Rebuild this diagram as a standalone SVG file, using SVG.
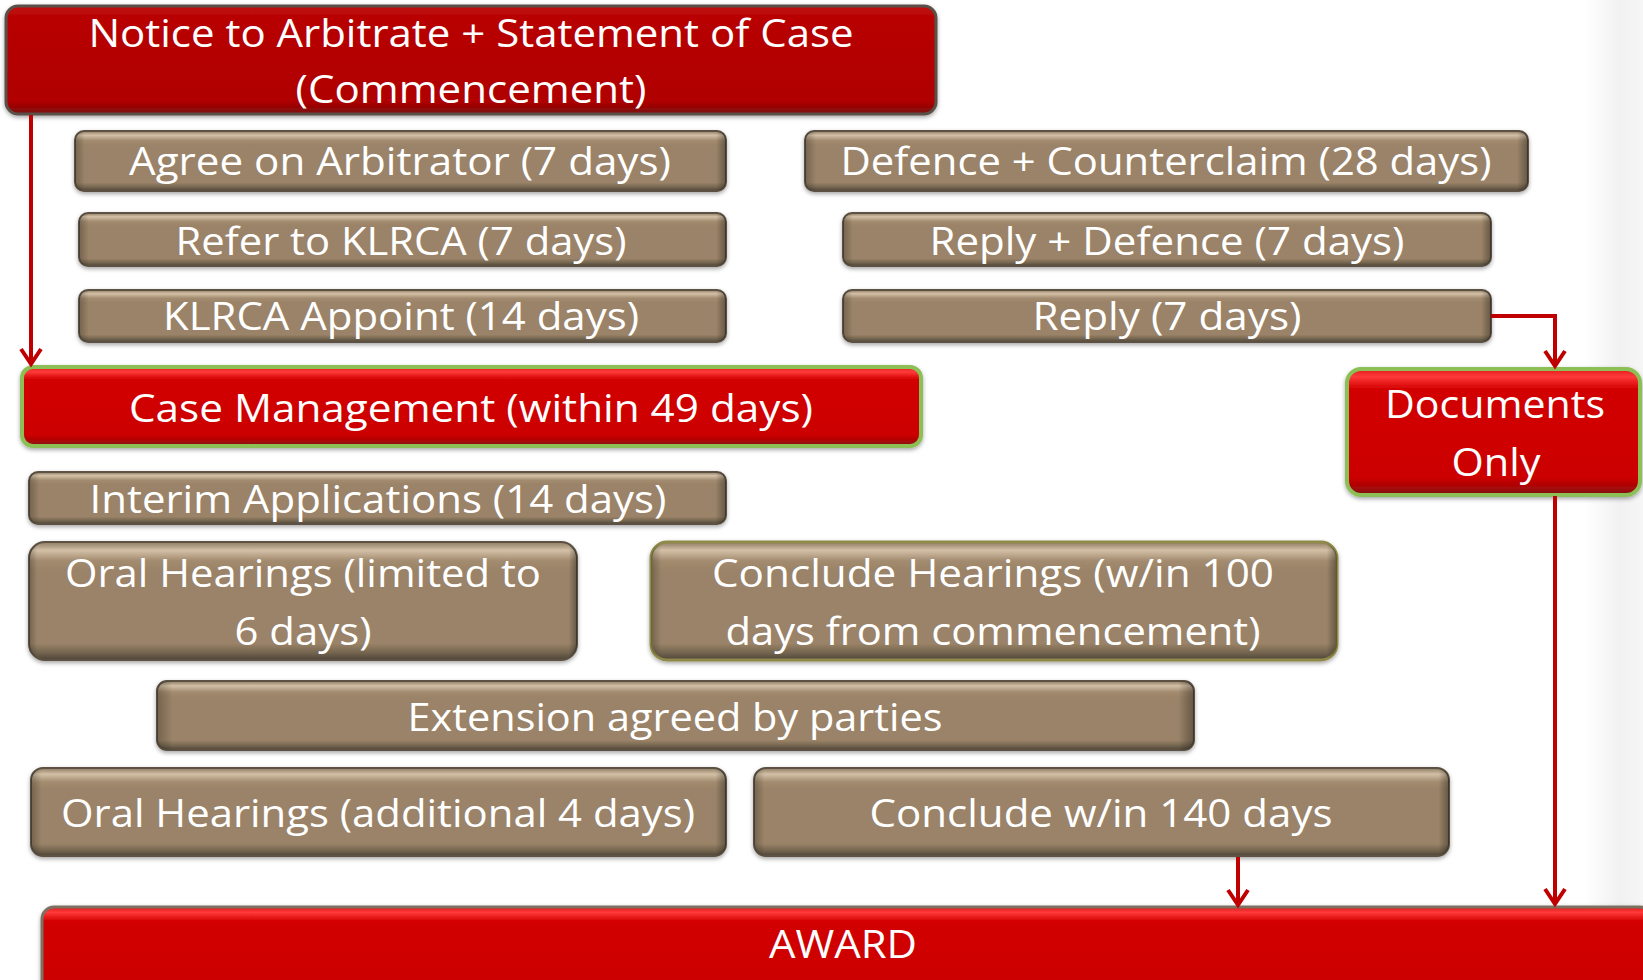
<svg xmlns="http://www.w3.org/2000/svg" width="1643" height="980" viewBox="0 0 1643 980">
<defs>
<linearGradient id="bg" x1="0" y1="0" x2="1" y2="0">
<stop offset="0" stop-color="#ffffff"/><stop offset="0.6" stop-color="#f1f1f1"/><stop offset="1" stop-color="#f6f6f6"/>
</linearGradient>
<linearGradient id="gBrown" x1="0" y1="0" x2="0" y2="1">
<stop offset="0" stop-color="#8c7a62"/><stop offset="0.07" stop-color="#d3c0a6"/><stop offset="0.16" stop-color="#a28b6f"/><stop offset="0.24" stop-color="#9a8367"/><stop offset="0.86" stop-color="#9a8367"/><stop offset="0.94" stop-color="#73644f"/><stop offset="1" stop-color="#4c4437"/>
</linearGradient>
<linearGradient id="gSide" x1="0" y1="0" x2="1" y2="0">
<stop offset="0" stop-color="#000" stop-opacity="0.25"/><stop offset="0.015" stop-color="#000" stop-opacity="0"/><stop offset="0.985" stop-color="#000" stop-opacity="0"/><stop offset="1" stop-color="#000" stop-opacity="0.35"/>
</linearGradient>
<linearGradient id="gRed" x1="0" y1="0" x2="0" y2="1">
<stop offset="0" stop-color="#e01a1a"/><stop offset="0.06" stop-color="#ff3a3a"/><stop offset="0.16" stop-color="#d20000"/><stop offset="0.86" stop-color="#cc0000"/><stop offset="0.95" stop-color="#a30808"/><stop offset="1" stop-color="#7a1010"/>
</linearGradient>
<linearGradient id="gDark" x1="0" y1="0" x2="0" y2="1">
<stop offset="0" stop-color="#c21010"/><stop offset="0.1" stop-color="#b80404"/><stop offset="0.88" stop-color="#b00000"/><stop offset="1" stop-color="#7a0c0c"/>
</linearGradient>
<filter id="sh" x="-5%" y="-10%" width="110%" height="130%">
<feDropShadow dx="0" dy="2" stdDeviation="2" flood-color="#000" flood-opacity="0.35"/>
</filter>
<marker id="arr" markerUnits="userSpaceOnUse" markerWidth="30" markerHeight="30" refX="0" refY="0" orient="auto" overflow="visible">
<path d="M-15,-10 L0,0 L-15,10" fill="none" stroke="#c00000" stroke-width="4" stroke-linejoin="miter"/>
</marker>
</defs>
<style>
.brown{fill:url(#gBrown);stroke:#5b5143;stroke-width:2;filter:url(#sh)}
.side{fill:url(#gSide);stroke:none}
.red{fill:url(#gRed);stroke:#8cbf55;stroke-width:4;filter:url(#sh)}
.dark{fill:url(#gDark);stroke:#5a5048;stroke-width:3;filter:url(#sh)}
.award{fill:url(#gRed);stroke:#7d7060;stroke-width:3;filter:url(#sh)}
.olive{stroke:#8f8a48;stroke-width:3}
.t{font-family:"Open Sans","Noto Sans","Liberation Sans",sans-serif;font-size:38px;fill:#ffffff;text-anchor:middle}
.conn{fill:none;stroke:#c00000;stroke-width:4;marker-end:url(#arr)}
.connp{fill:none;stroke:#c00000;stroke-width:4}
</style>
<rect x="0" y="0" width="1643" height="980" fill="#ffffff"/>
<rect x="1585" y="0" width="58" height="980" fill="url(#bg)"/>

<g id="notice">
<rect class="dark" x="6" y="6" width="930" height="108" rx="12"/>
<text class="t" x="471" y="47" textLength="765" lengthAdjust="spacingAndGlyphs">Notice to Arbitrate + Statement of Case</text>
<text class="t" x="471" y="103" textLength="351" lengthAdjust="spacingAndGlyphs">(Commencement)</text>
</g>
<g id="agree">
<rect class="brown" x="75" y="131" width="651" height="60" rx="9"/>
<rect class="side" x="75" y="131" width="651" height="60" rx="9"/>
<text class="t" x="400" y="175" textLength="542" lengthAdjust="spacingAndGlyphs">Agree on Arbitrator (7 days)</text>
</g>
<g id="defence">
<rect class="brown" x="805" y="131" width="723" height="60" rx="9"/>
<rect class="side" x="805" y="131" width="723" height="60" rx="9"/>
<text class="t" x="1166" y="175" textLength="651" lengthAdjust="spacingAndGlyphs">Defence + Counterclaim (28 days)</text>
</g>
<g id="refer">
<rect class="brown" x="79" y="213" width="647" height="53" rx="9"/>
<rect class="side" x="79" y="213" width="647" height="53" rx="9"/>
<text class="t" x="401" y="255" textLength="451" lengthAdjust="spacingAndGlyphs">Refer to KLRCA (7 days)</text>
</g>
<g id="replydefence">
<rect class="brown" x="843" y="213" width="648" height="53" rx="9"/>
<rect class="side" x="843" y="213" width="648" height="53" rx="9"/>
<text class="t" x="1167" y="255" textLength="475" lengthAdjust="spacingAndGlyphs">Reply + Defence (7 days)</text>
</g>
<g id="appoint">
<rect class="brown" x="79" y="290" width="647" height="52" rx="9"/>
<rect class="side" x="79" y="290" width="647" height="52" rx="9"/>
<text class="t" x="401" y="330" textLength="476" lengthAdjust="spacingAndGlyphs">KLRCA Appoint (14 days)</text>
</g>
<g id="reply">
<rect class="brown" x="843" y="290" width="648" height="52" rx="9"/>
<rect class="side" x="843" y="290" width="648" height="52" rx="9"/>
<text class="t" x="1167" y="330" textLength="269" lengthAdjust="spacingAndGlyphs">Reply (7 days)</text>
</g>
<g id="casemgmt">
<rect class="red" x="22" y="367" width="899" height="79" rx="11"/>
<text class="t" x="471" y="422" textLength="684" lengthAdjust="spacingAndGlyphs">Case Management (within 49 days)</text>
</g>
<g id="docs">
<rect class="red" x="1347" y="369" width="293" height="126" rx="14"/>
<text class="t" x="1495" y="418" textLength="220" lengthAdjust="spacingAndGlyphs">Documents</text>
<text class="t" x="1496" y="476" textLength="89" lengthAdjust="spacingAndGlyphs">Only</text>
</g>
<g id="interim">
<rect class="brown" x="29" y="472" width="697" height="52" rx="9"/>
<rect class="side" x="29" y="472" width="697" height="52" rx="9"/>
<text class="t" x="378" y="513" textLength="577" lengthAdjust="spacingAndGlyphs">Interim Applications (14 days)</text>
</g>
<g id="oral1">
<rect class="brown" x="29" y="542" width="548" height="118" rx="16"/>
<rect class="side" x="29" y="542" width="548" height="118" rx="16"/>
<text class="t" x="303" y="587" textLength="476" lengthAdjust="spacingAndGlyphs">Oral Hearings (limited to</text>
<text class="t" x="303" y="645" textLength="137" lengthAdjust="spacingAndGlyphs">6 days)</text>
</g>
<g id="conclude100">
<rect class="brown olive" x="651" y="542" width="686" height="118" rx="16"/>
<rect class="side" x="651" y="542" width="686" height="118" rx="16"/>
<text class="t" x="993" y="587" textLength="562" lengthAdjust="spacingAndGlyphs">Conclude Hearings (w/in 100</text>
<text class="t" x="993" y="645" textLength="535" lengthAdjust="spacingAndGlyphs">days from commencement)</text>
</g>
<g id="extension">
<rect class="brown" x="157" y="681" width="1037" height="69" rx="10"/>
<rect class="side" x="157" y="681" width="1037" height="69" rx="10"/>
<text class="t" x="675" y="731" textLength="535" lengthAdjust="spacingAndGlyphs">Extension agreed by parties</text>
</g>
<g id="oral2">
<rect class="brown" x="31" y="768" width="695" height="88" rx="12"/>
<rect class="side" x="31" y="768" width="695" height="88" rx="12"/>
<text class="t" x="378" y="827" textLength="634" lengthAdjust="spacingAndGlyphs">Oral Hearings (additional 4 days)</text>
</g>
<g id="conclude140">
<rect class="brown" x="754" y="768" width="695" height="88" rx="12"/>
<rect class="side" x="754" y="768" width="695" height="88" rx="12"/>
<text class="t" x="1101" y="827" textLength="463" lengthAdjust="spacingAndGlyphs">Conclude w/in 140 days</text>
</g>
<g id="award">
<rect class="award" x="42" y="907" width="1610" height="90" rx="12"/>
<text class="t" x="843" y="958" textLength="148" lengthAdjust="spacingAndGlyphs">AWARD</text>
</g>

<g id="connectors">
<path class="conn" d="M31,115 L31,364"/>
<path class="conn" d="M1491,316 L1555,316 L1555,366"/>
<path class="conn" d="M1555,496 L1555,904"/>
<path class="conn" d="M1238,857 L1238,905"/>
</g>
</svg>
